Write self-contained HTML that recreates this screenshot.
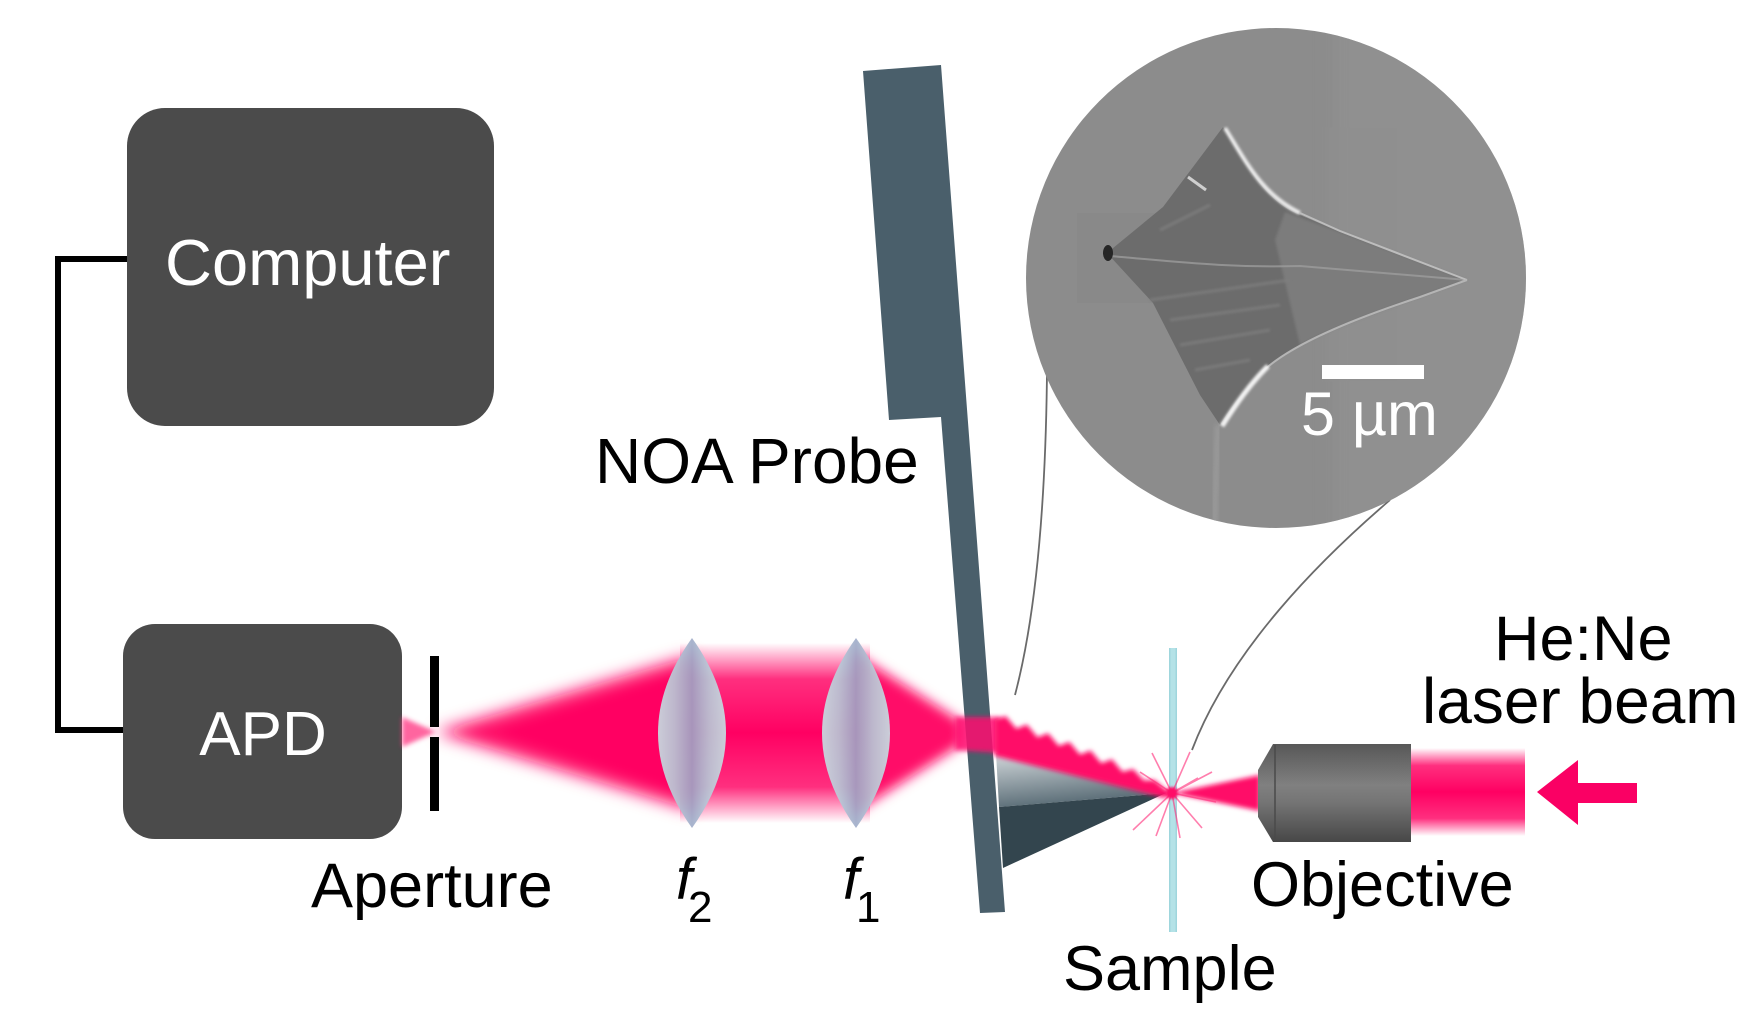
<!DOCTYPE html>
<html>
<head>
<meta charset="utf-8">
<style>
  html,body{margin:0;padding:0;background:#ffffff;}
  svg{display:block;}
  text{font-family:"Liberation Sans", Arial, sans-serif;}
</style>
</head>
<body>
<svg width="1764" height="1026" viewBox="0 0 1764 1026" xmlns="http://www.w3.org/2000/svg">
  <defs>
    <filter id="b8" x="-30%" y="-30%" width="160%" height="160%"><feGaussianBlur stdDeviation="8"/></filter>
    <filter id="b6" x="-30%" y="-30%" width="160%" height="160%"><feGaussianBlur stdDeviation="6"/></filter>
    <filter id="b4" x="-30%" y="-30%" width="160%" height="160%"><feGaussianBlur stdDeviation="4"/></filter>
    <filter id="b3" x="-30%" y="-30%" width="160%" height="160%"><feGaussianBlur stdDeviation="2.5"/></filter>
    <filter id="b1" x="-30%" y="-30%" width="160%" height="160%"><feGaussianBlur stdDeviation="1.2"/></filter>
    <linearGradient id="lensG" x1="0" y1="0" x2="1" y2="0">
      <stop offset="0" stop-color="#c4e8e8"/>
      <stop offset="0.25" stop-color="#b4cfda"/>
      <stop offset="0.5" stop-color="#9ca8c6"/>
      <stop offset="0.75" stop-color="#b4cfda"/>
      <stop offset="1" stop-color="#c4e8e8"/>
    </linearGradient>
    <linearGradient id="objG" x1="0" y1="0" x2="0" y2="1">
      <stop offset="0" stop-color="#575757"/>
      <stop offset="0.42" stop-color="#808080"/>
      <stop offset="0.6" stop-color="#747474"/>
      <stop offset="1" stop-color="#474747"/>
    </linearGradient>
    <linearGradient id="beamG" x1="0" y1="0" x2="0" y2="1">
      <stop offset="0" stop-color="#ff0a68" stop-opacity="0"/>
      <stop offset="0.2" stop-color="#ff0a68" stop-opacity="0.85"/>
      <stop offset="0.5" stop-color="#ff0062" stop-opacity="1"/>
      <stop offset="0.8" stop-color="#ff0a68" stop-opacity="0.85"/>
      <stop offset="1" stop-color="#ff0a68" stop-opacity="0"/>
    </linearGradient>
    <linearGradient id="tipG" x1="0" y1="0" x2="0.3" y2="1">
      <stop offset="0" stop-color="#d3d9dc"/>
      <stop offset="1" stop-color="#576a74"/>
    </linearGradient>
    <clipPath id="cc"><circle cx="1276" cy="278" r="250"/></clipPath>
  </defs>

  <!-- connector -->
  <polyline points="128,259 58,259 58,730 124,730" fill="none" stroke="#000" stroke-width="6"/>

  <!-- Computer box -->
  <rect x="127" y="108" width="367" height="318" rx="38" fill="#4b4b4b"/>
  <text x="165" y="285" font-size="65" fill="#ffffff">Computer</text>

  <!-- APD box -->
  <rect x="123" y="624" width="279" height="215" rx="32" fill="#4b4b4b"/>
  <text x="263" y="755" font-size="62" fill="#ffffff" text-anchor="middle">APD</text>

  <!-- beams left side -->
  <polygon points="402,717 436,732 402,747" fill="#ff3080" opacity="0.75" filter="url(#b3)"/>
  <polygon points="436,732 692,656 692,810" fill="#ff0a68" filter="url(#b8)"/>
  <polygon points="500,732 692,672 692,794" fill="#ff0062" filter="url(#b4)"/>
  <rect x="680" y="643" width="190" height="180" fill="url(#beamG)"/>
  <polygon points="856,654 856,812 962,744 962,722" fill="#ff0a68" filter="url(#b6)"/>

  <!-- aperture -->
  <rect x="430" y="656" width="9" height="71" fill="#000"/>
  <rect x="430" y="737" width="9" height="74" fill="#000"/>

  <!-- lenses -->
  <path d="M692,638 Q760,733 692,828 Q624,733 692,638 Z" fill="url(#lensG)" opacity="0.88"/>
  <path d="M856,638 Q924,733 856,828 Q788,733 856,638 Z" fill="url(#lensG)" opacity="0.88"/>

  <!-- probe -->
  <polygon points="863,71 941,65 1005,912 980,913 941,417 889,420" fill="#4a5f6b"/>
  <!-- tip -->
  <polygon points="996,753 1166,793 999,807" fill="url(#tipG)"/>
  <polygon points="999,807 1166,793 1003,868" fill="#33454e"/>

  <!-- beam on bar and serrated beam -->
  <polygon points="955,717 1000,717 1000,753 955,750" fill="#ff1070" opacity="0.85" filter="url(#b3)"/>
  <path d="M995,720 L1005.6,716 L1016.3,728.6 L1026.9,724.6 L1037.5,737.3 L1048.1,733.3 L1058.8,745.9 L1069.4,742 L1080,754.5 L1090.6,750.5 L1101.3,763.1 L1111.9,759.2 L1122.5,771.8 L1133.1,769 L1143.8,780.4 L1154.4,780 L1165,789 L1173,793 L1165,798 L995,756 Z" fill="#ff0a68" filter="url(#b3)"/>

  <!-- objective beam -->
  <polygon points="1260,775 1260,811 1172,793" fill="#ff0a68" filter="url(#b3)"/>
  <rect x="1411" y="748" width="114" height="88" fill="url(#beamG)"/>

  <!-- sample -->
  <rect x="1169" y="648" width="8" height="284" fill="#b4e2e7"/>
  <rect x="1169" y="648" width="1.5" height="284" fill="#9fd6dd"/>
  <rect x="1175.5" y="648" width="1.5" height="284" fill="#9fd6dd"/>

  <!-- starburst -->
  <g stroke="#ff2a78" stroke-width="1.6" opacity="0.6">
    <line x1="1172" y1="793" x2="1152" y2="753"/>
    <line x1="1172" y1="793" x2="1133" y2="830"/>
    <line x1="1172" y1="793" x2="1202" y2="828"/>
    <line x1="1172" y1="793" x2="1212" y2="772"/>
    <line x1="1172" y1="793" x2="1190" y2="752"/>
    <line x1="1172" y1="793" x2="1140" y2="772"/>
    <line x1="1172" y1="793" x2="1180" y2="838"/>
    <line x1="1172" y1="793" x2="1216" y2="802"/>
    <line x1="1172" y1="793" x2="1156" y2="836"/>
    <line x1="1172" y1="793" x2="1198" y2="778"/>
  </g>
  <circle cx="1172" cy="793" r="6" fill="#ff0a68" filter="url(#b1)"/>

  <!-- objective -->
  <path d="M1273,744 L1411,744 L1411,842 L1273,842 L1258,817 L1258,770 Z" fill="url(#objG)"/>
  <line x1="1275" y1="745" x2="1275" y2="841" stroke="#4a4a4a" stroke-width="1.5"/>

  <!-- arrow -->
  <polygon points="1537,792 1578,760 1578,783 1637,783 1637,803 1578,803 1578,825" fill="#fa0064"/>

  <!-- magnification lines -->
  <path d="M1047,372 C1046,470 1040,600 1015,695" fill="none" stroke="#6a6a6a" stroke-width="1.8"/>
  <path d="M1390,500 C1320,560 1230,650 1192,750" fill="none" stroke="#6a6a6a" stroke-width="1.8"/>

  <!-- SEM circle -->
  <circle cx="1276" cy="278" r="250" fill="#8c8c8c"/>
  <g clip-path="url(#cc)">
    <rect x="1330" y="-20" width="260" height="580" fill="#939393" opacity="0.5" filter="url(#b8)"/>
    <rect x="1077" y="213" width="90" height="90" fill="#878787" opacity="0.6"/>
    <path d="M1218,425 L1214,535" stroke="#9a9a9a" stroke-width="6" filter="url(#b3)"/>
    <path d="M1223,127 C1245,160 1262,200 1300,215 L1340,232 L1467,280 L1420,297 C1350,320 1290,345 1262,372 C1245,390 1232,405 1220,425 L1200,395 L1153,303 L1107,253 L1163,207 L1193,167 Z" fill="#6c6c6c"/>
    <path d="M1285,212 L1340,232 L1467,280 L1420,297 C1370,314 1330,330 1300,345 L1275,240 Z" fill="#7c7c7c" filter="url(#b1)"/>
    <g stroke="#7f7f7f" stroke-width="3" opacity="0.8" filter="url(#b1)">
      <line x1="1150" y1="300" x2="1290" y2="280"/>
      <line x1="1170" y1="320" x2="1280" y2="305"/>
      <line x1="1180" y1="345" x2="1270" y2="330"/>
      <line x1="1195" y1="370" x2="1250" y2="360"/>
      <line x1="1160" y1="230" x2="1210" y2="205"/>
    </g>
    <path d="M1110,256 C1180,262 1230,268 1300,266 L1467,280" fill="none" stroke="#9c9c9c" stroke-width="2" opacity="0.8"/>
    <path d="M1225,128 C1245,160 1262,195 1300,213" fill="none" stroke="#ececec" stroke-width="4" filter="url(#b1)"/>
    <path d="M1300,213 L1340,231 L1467,280" fill="none" stroke="#bdbdbd" stroke-width="2"/>
    <path d="M1467,280 L1420,297 C1350,320 1290,345 1262,372" fill="none" stroke="#b5b5b5" stroke-width="2"/>
    <path d="M1268,366 C1250,384 1236,404 1222,426" fill="none" stroke="#f2f2f2" stroke-width="5" filter="url(#b1)"/>
    <line x1="1188" y1="177" x2="1206" y2="190" stroke="#cfcfcf" stroke-width="3"/>
    <ellipse cx="1108" cy="253" rx="5" ry="8" fill="#262626"/>
    <rect x="1322" y="365" width="102" height="14" fill="#ffffff"/>
    <text x="1301" y="435" font-size="61" fill="#ffffff">5 µm</text>
  </g>

  <!-- labels -->
  <text x="595" y="483" font-size="64" fill="#000">NOA Probe</text>
  <text x="311" y="907" font-size="63" fill="#000">Aperture</text>
  <text x="676" y="899" font-size="58" font-style="italic" fill="#000">f</text>
  <text x="688" y="922" font-size="44" fill="#000">2</text>
  <text x="843" y="899" font-size="58" font-style="italic" fill="#000">f</text>
  <text x="856" y="922" font-size="44" fill="#000">1</text>
  <text x="1063" y="990" font-size="63" fill="#000">Sample</text>
  <text x="1251" y="906" font-size="63" fill="#000">Objective</text>
  <text x="1494" y="660" font-size="63" fill="#000">He:Ne</text>
  <text x="1422" y="723" font-size="64" fill="#000">laser beam</text>
</svg>
</body>
</html>
